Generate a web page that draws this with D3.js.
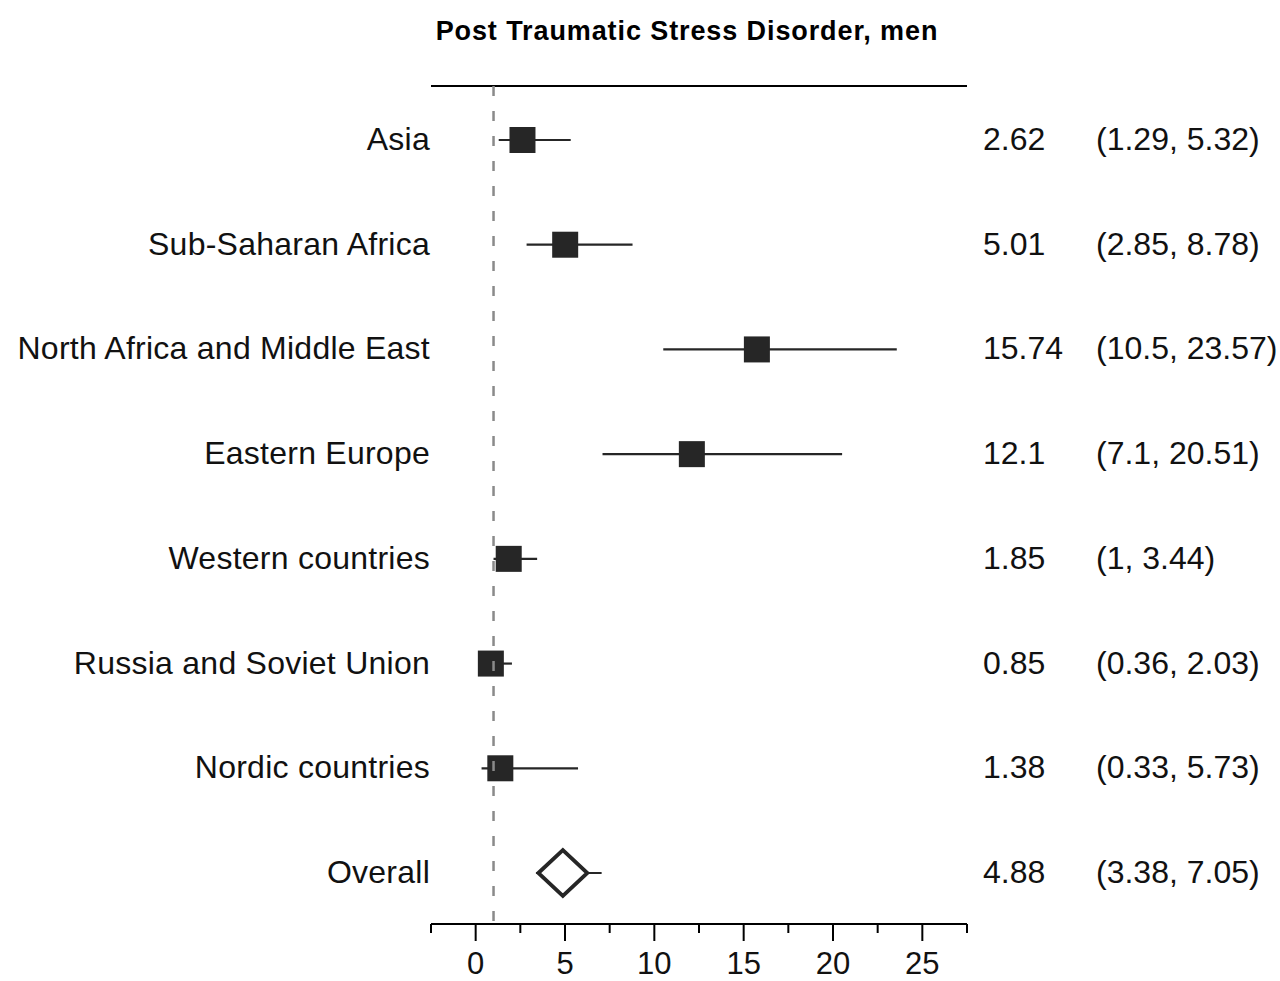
<!DOCTYPE html>
<html>
<head>
<meta charset="utf-8">
<script src="https://cdn.jsdelivr.net/npm/d3@7/dist/d3.min.js"></script>
<style>
  html, body { margin: 0; padding: 0; background: #fff; }
  svg { display: block; font-family: Arial, "Liberation Sans", sans-serif; }
</style>
</head>
<body>
<svg id="chart" width="1280" height="981"></svg>
<script>
const title = "Post Traumatic Stress Disorder, men";
const categories = ["Asia", "Sub-Saharan Africa", "North Africa and Middle East", "Eastern Europe",
  "Western countries", "Russia and Soviet Union", "Nordic countries", "Overall"];
const estimates = [2.62, 5.01, 15.74, 12.1, 1.85, 0.85, 1.38, 4.88];
const lowerCI = [1.29, 2.85, 10.5, 7.1, 1, 0.36, 0.33, 3.38];
const upperCI = [5.32, 8.78, 23.57, 20.51, 3.44, 2.03, 5.73, 7.05];
const estLabels = ["2.62", "5.01", "15.74", "12.1", "1.85", "0.85", "1.38", "4.88"];
const ciLabels = ["(1.29, 5.32)", "(2.85, 8.78)", "(10.5, 23.57)", "(7.1, 20.51)", "(1, 3.44)",
  "(0.36, 2.03)", "(0.33, 5.73)", "(3.38, 7.05)"];
const majorTicks = [0, 5, 10, 15, 20, 25];
const minorTicks = [-2.5, 2.5, 7.5, 12.5, 17.5, 22.5, 27.5];
const refValue = 1;

const svg = d3.select("#chart");
const x = d3.scaleLinear().domain([-2.5, 27.5]).range([431, 967]);
const y = d3.scalePoint().domain(categories).range([140, 873]);
const axisY = 924, topY = 86;
const dark = "#262626";

// title
svg.append("text").attr("x", 687).attr("y", 31).attr("text-anchor", "middle")
  .attr("dominant-baseline", "central").attr("font-weight", "bold")
  .attr("font-size", 27).attr("letter-spacing", 0.9).attr("fill", "#000").text(title);

// top line
svg.append("line").attr("x1", x(-2.5)).attr("x2", x(27.5)).attr("y1", topY).attr("y2", topY)
  .attr("stroke", "#000").attr("stroke-width", 2);

const rows = categories.map((c, i) => ({c, est: estimates[i], lo: lowerCI[i], hi: upperCI[i],
  el: estLabels[i], cl: ciLabels[i], overall: c === "Overall"}));

// labels
svg.selectAll(".lab").data(rows).join("text")
  .attr("x", 430).attr("y", d => y(d.c) - 1).attr("text-anchor", "end")
  .attr("dominant-baseline", "central").attr("font-size", 32).attr("letter-spacing", 0.25)
  .attr("fill", "#111").text(d => d.c);
svg.selectAll(".est").data(rows).join("text")
  .attr("x", 983).attr("y", d => y(d.c) - 1).attr("dominant-baseline", "central")
  .attr("font-size", 32).attr("fill", "#111").text(d => d.el);
svg.selectAll(".ci").data(rows).join("text")
  .attr("x", 1096).attr("y", d => y(d.c) - 1).attr("dominant-baseline", "central")
  .attr("font-size", 32).attr("fill", "#111").text(d => d.cl);

// CI lines
svg.selectAll(".cil").data(rows).join("line")
  .attr("x1", d => x(d.lo)).attr("x2", d => x(d.hi))
  .attr("y1", d => y(d.c)).attr("y2", d => y(d.c))
  .attr("stroke", dark).attr("stroke-width", 2.2);

// squares
const sq = 26;
svg.selectAll(".sq").data(rows.filter(d => !d.overall)).join("rect")
  .attr("x", d => x(d.est) - sq / 2).attr("y", d => y(d.c) - sq / 2)
  .attr("width", sq).attr("height", sq).attr("fill", dark);

// diamond
const ov = rows.filter(d => d.overall);
svg.selectAll(".dia").data(ov).join("path")
  .attr("d", d => {
    const cx = x(d.est), cy = y(d.c), hw = 24.5, hh = 23;
    return `M${cx - hw},${cy} L${cx},${cy - hh} L${cx + hw},${cy} L${cx},${cy + hh} Z`;
  })
  .attr("fill", "#fff").attr("stroke", dark).attr("stroke-width", 3.8).attr("stroke-linejoin", "miter");

// reference line
svg.append("line").attr("x1", x(refValue)).attr("x2", x(refValue))
  .attr("y1", topY).attr("y2", axisY)
  .attr("stroke", "#8a8a8a").attr("stroke-width", 2.5).attr("stroke-dasharray", "10,15");

// x axis
const gAxis = svg.append("g");
gAxis.append("line").attr("x1", x(-2.5)).attr("x2", x(27.5)).attr("y1", axisY).attr("y2", axisY)
  .attr("stroke", "#000").attr("stroke-width", 2);
gAxis.selectAll(".maj").data(majorTicks).join("line")
  .attr("x1", d => x(d)).attr("x2", d => x(d)).attr("y1", axisY).attr("y2", axisY + 17)
  .attr("stroke", "#000").attr("stroke-width", 2);
gAxis.selectAll(".min").data(minorTicks).join("line")
  .attr("x1", d => x(d)).attr("x2", d => x(d)).attr("y1", axisY).attr("y2", axisY + 9)
  .attr("stroke", "#000").attr("stroke-width", 2);
gAxis.selectAll(".tl").data(majorTicks).join("text")
  .attr("x", d => x(d)).attr("y", 974).attr("text-anchor", "middle")
  .attr("font-size", 31).attr("fill", "#111")
  .text(d => d3.format("d")(d));
</script>
</body>
</html>
